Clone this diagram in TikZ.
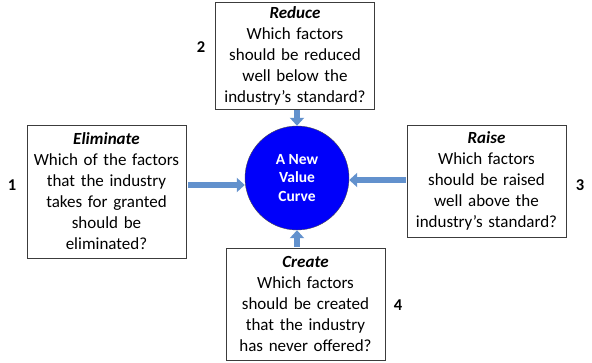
\documentclass[tikz,border=0pt]{standalone}
\usepackage{fontspec}
\setmainfont{Carlito}
\usepackage{tikz}
\usetikzlibrary{arrows.meta,positioning,calc}
\usepackage{xcolor}
\definecolor{curveblue}{RGB}{0,0,250}
\definecolor{arrowblue}{RGB}{98,145,205}
\definecolor{boxgray}{RGB}{60,60,60}

\begin{document}
\begin{tikzpicture}[x=1pt, y=-1pt,
    every node/.style={font=\fontsize{17}{21}\selectfont},
    errcbox/.style={draw=boxgray, thick, fill=white, align=center, text width=158pt,
      minimum width=159pt, inner sep=0.5pt},
    blockarrow/.style={arrowblue, line width=6pt,
      -{Triangle[width=14pt,length=8pt]}},
    numlabel/.style={font=\fontsize{16.5}{18}\selectfont\bfseries}]
  \useasboundingbox (0,0) rectangle (592,363);

  % Centre
  \node[circle, draw=black!70, fill=curveblue, minimum size=104pt, text=white,
    align=center, font=\fontsize{15.5}{18.5}\selectfont\bfseries] (curve) at (297,178)
    {A New\\Value\\Curve};

  % The four actions
  \node[errcbox, minimum height=107pt] (reduce) at (295,55.5)
    {\textbf{\textit{Reduce}}\\Which factors\\should be reduced\\well below the\\industry’s standard?};
  \node[errcbox, minimum height=133pt] (elim) at (106.5,191.5)
    {\textbf{\textit{Eliminate}}\\Which of the factors\\that the industry\\takes for granted\\should be\\eliminated?};
  \node[errcbox, minimum height=112pt] (raise) at (486.5,181)
    {\textbf{\textit{Raise}}\\Which factors\\should be raised\\well above the\\industry’s standard?};
  \node[errcbox, minimum height=112pt] (create) at (305.5,304)
    {\textbf{\textit{Create}}\\Which factors\\should be created\\that the industry\\has never offered?};

  % Numbers
  \node[numlabel] (n1) at (12,185) {1};
  \node[numlabel] (n2) at (201,47) {2};
  \node[numlabel] (n3) at (580,185) {3};
  \node[numlabel] (n4) at (398,305) {4};

  % Arrows into the curve
  \draw[blockarrow, shorten <=2pt] (elim.east |- 0,185) -- (curve.west |- 0,185);
  \draw[blockarrow, shorten <=1pt] (reduce.south -| curve) -- (curve.north);
  \draw[blockarrow, shorten <=1pt] (raise.west |- 0,180) -- (curve.east |- 0,180);
  \draw[blockarrow, shorten <=1pt] (create.north -| curve) -- (curve.south);
\end{tikzpicture}
\end{document}
